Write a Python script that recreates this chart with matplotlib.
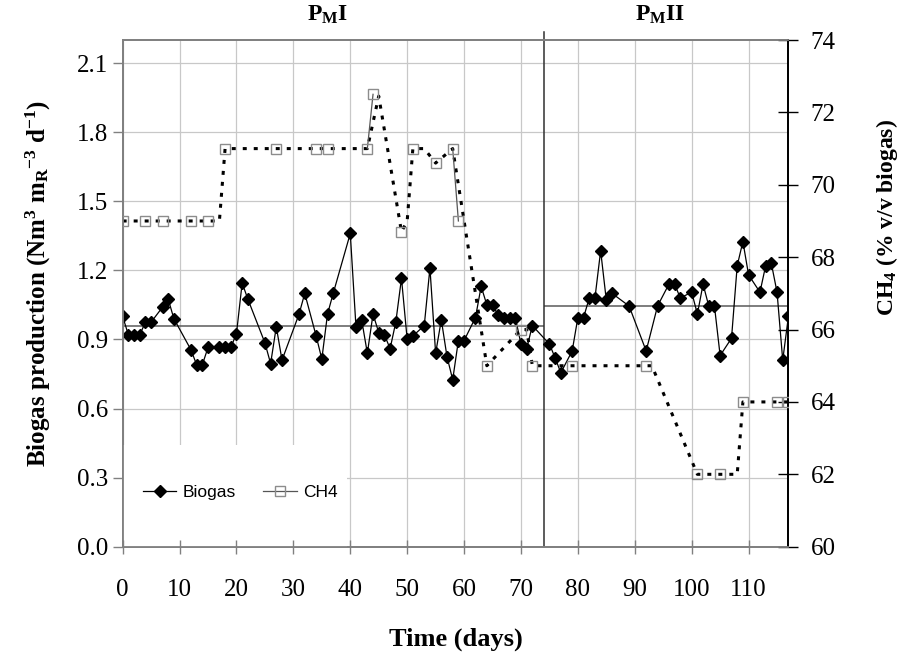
import numpy as np
import matplotlib.pyplot as plt
from matplotlib.patches import Rectangle
from matplotlib.ticker import FormatStrFormatter

# biogas production, Nm3 per m3 reactor per day
bio_days = [0, 1, 2, 3, 4, 5, 7, 8, 9, 12, 13, 14, 15, 17, 18, 19, 20, 21, 22,
            25, 26, 27, 28, 31, 32, 34, 35, 36, 37, 40, 41, 42, 43, 44, 45, 46,
            47, 48, 49, 50, 51, 53, 54, 55, 56, 57, 58, 59, 60, 62, 63, 64, 65,
            66, 67, 68, 69, 70, 71, 72, 75, 76, 77, 79, 80, 81, 82, 83, 84, 85,
            86, 89, 92, 94, 96, 97, 98, 100, 101, 102, 103, 104, 105, 107, 108,
            109, 110, 112, 113, 114, 115, 116, 117]
bio_vals = [1.00, 0.92, 0.92, 0.92, 0.975, 0.975, 1.04, 1.075, 0.99, 0.855,
            0.79, 0.79, 0.865, 0.865, 0.865, 0.865, 0.925, 1.145, 1.075, 0.885,
            0.795, 0.955, 0.81, 1.01, 1.10, 0.915, 0.815, 1.01, 1.10, 1.36,
            0.955, 0.985, 0.84, 1.01, 0.93, 0.92, 0.86, 0.975, 1.165, 0.90,
            0.915, 0.96, 1.21, 0.84, 0.985, 0.825, 0.725, 0.895, 0.895, 0.995,
            1.13, 1.05, 1.05, 1.005, 0.995, 0.995, 0.995, 0.88, 0.86, 0.96,
            0.88, 0.82, 0.755, 0.85, 0.995, 0.995, 1.08, 1.08, 1.285, 1.07,
            1.10, 1.045, 0.85, 1.045, 1.14, 1.14, 1.08, 1.105, 1.01, 1.14,
            1.045, 1.045, 0.83, 0.905, 1.22, 1.325, 1.18, 1.105, 1.22, 1.23,
            1.105, 0.81, 1.00]

# CH4 content of the biogas (% v/v) on sampling days
ch4_days = [0, 4, 7, 12, 15, 18, 27, 34, 36, 43, 44, 49, 51, 55, 58, 59, 64,
            70, 72, 79, 92, 101, 105, 109, 115, 117]
ch4_vals = [69, 69, 69, 69, 69, 71, 71, 71, 71, 71, 72.5, 68.7, 71, 70.6, 71,
            69, 65, 66, 65, 65, 65, 62, 62, 64, 64, 64]

# CH4 trend line (dotted)
trend_days = [0, 17, 18, 43, 45, 49, 50, 51, 53, 55, 58, 64, 70, 71, 72, 93,
              101, 108, 109, 117]
trend_vals = [69, 69, 71, 71, 72.45, 68.7, 69, 71, 71, 70.6, 71, 65, 66, 66,
              65, 65, 62, 62, 64, 64]

# operating phases and their mean production
phase_names = [r'P$_{\mathbf{M}}$I', r'P$_{\mathbf{M}}$II']
phase_start = [0, 74]
phase_stop = [74, 117]
phase_mean = [0.96, 1.045]

x_ticks = list(range(0, 111, 10))
bio_ticks = [0.0, 0.3, 0.6, 0.9, 1.2, 1.5, 1.8, 2.1]
ch4_ticks = [60, 62, 64, 66, 68, 70, 72, 74]


def gapped(days, vals):
    # only link samples taken on consecutive days
    xs, ys = [], []
    for i, (d, v) in enumerate(zip(days, vals)):
        if i and d - days[i - 1] > 1:
            xs.append(np.nan)
            ys.append(np.nan)
        xs.append(d)
        ys.append(v)
    return xs, ys


def draw():
    plt.rcParams['font.family'] = 'Liberation Serif'
    plt.rcParams['mathtext.fontset'] = 'custom'
    plt.rcParams['mathtext.rm'] = 'Liberation Serif:bold'
    plt.rcParams['mathtext.it'] = 'Liberation Serif:bold'
    plt.rcParams['mathtext.bf'] = 'Liberation Serif:bold'

    fig = plt.figure(figsize=(9.08, 6.53), dpi=100)
    ax = fig.add_axes([0.1351, 0.1628, 0.7332, 0.7759])
    ax2 = ax.twinx()

    ax.grid(True, color='#c8c8c8', lw=0.9)
    l1, = ax.plot(bio_days, bio_vals, '-D', color='black', lw=0.9, ms=6.5,
                  label='Biogas', zorder=3)
    ax.hlines(phase_mean, phase_start, phase_stop, colors='#5a5a5a', lw=1.1,
              zorder=2)
    ax.axvline(phase_stop[0], ymax=1.015, color='#303030', lw=1.1,
               clip_on=False, zorder=2)

    ax2.plot(trend_days, trend_vals, color='black', lw=2.2, dashes=(1.3, 2.3),
             dash_capstyle='butt', zorder=2)
    cx, cy = gapped(ch4_days, ch4_vals)
    l2, = ax2.plot(cx, cy, '-s', color='#555555', lw=0.9, ms=6.5, mfc='none',
                   mec='#8c8c8c', mew=1.0, label='CH4', zorder=3)

    # blank area behind the legend
    ax2.add_patch(Rectangle((0, 0), 0.337, 0.2, transform=ax2.transAxes,
                            facecolor='white', edgecolor='none', zorder=1.5))
    ax2.legend(handles=[l1, l2], loc='center left',
               bbox_to_anchor=(0.030, 0.107), frameon=False, ncol=2,
               borderpad=0, borderaxespad=0, handlelength=1.95,
               handletextpad=0.35, columnspacing=1.55,
               prop={'family': 'Liberation Sans', 'size': 12.5})

    ax.set_xlim(0, 117)
    ax.set_ylim(0, 2.2)
    ax2.set_ylim(60, 74)
    ax.set_xticks(x_ticks)
    ax.set_yticks(bio_ticks)
    ax2.set_yticks(ch4_ticks)
    ax.yaxis.set_major_formatter(FormatStrFormatter('%.1f'))

    ax.tick_params(axis='x', length=0, labelsize=18, pad=23)
    ax.tick_params(axis='y', direction='out', length=7, width=1,
                   color='#808080', labelsize=18, pad=3.5)
    ax2.xaxis.set_visible(True)
    ax2.tick_params(axis='x', direction='inout', length=10, width=1,
                    color='#808080', labelbottom=False)
    ax2.tick_params(axis='y', direction='inout', length=14, width=1,
                    color='black', labelsize=18, pad=9)

    for a in (ax, ax2):
        for side in ('left', 'bottom', 'top'):
            a.spines[side].set_color('#808080')
            a.spines[side].set_linewidth(1.3)
        a.spines['right'].set_color('black')
        a.spines['right'].set_linewidth(1.3)

    ax.set_xlabel('Time (days)', fontsize=19, fontweight='bold')
    ax.xaxis.set_label_coords(0.5, -0.16)
    ax.set_ylabel(r'Biogas production (Nm$^{3}$ m$_{R}$$^{-3}$ d$^{-1}$)',
                  fontsize=18, fontweight='bold')
    ax.yaxis.set_label_coords(-0.105, 0.52)
    ax2.set_ylabel(r'CH$_{4}$ (% v/v biogas)', fontsize=17, fontweight='bold')
    ax2.yaxis.set_label_coords(1.128, 0.65)

    for name, a, b in zip(phase_names, phase_start, phase_stop):
        ax.text((a + b) / 2 - 1, 1.049, name, transform=ax.get_xaxis_transform(),
                ha='center', va='center', fontsize=17, fontweight='bold')

    fig.savefig('out.png', dpi=100)


if __name__ == '__main__':
    draw()
